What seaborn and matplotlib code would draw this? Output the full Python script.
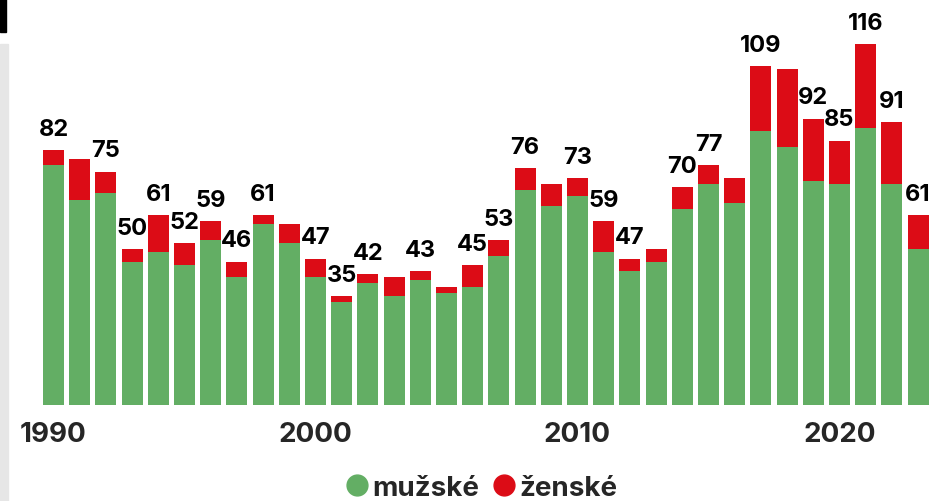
import pandas as pd
import seaborn as sns
import matplotlib.pyplot as plt
from matplotlib.lines import Line2D
from matplotlib.patches import Rectangle

# data
years = list(range(1990, 2024))
muzske = [77, 66, 68, 46, 49, 45, 53, 41, 58, 52,
          41, 33, 39, 35, 40, 36, 38, 48, 69, 64,
          67, 49, 43, 46, 63, 71, 65, 88, 83, 72,
          71, 89, 71, 50]
zenske = [5, 13, 7, 4, 12, 7, 6, 5, 3, 6,
          6, 2, 3, 6, 3, 2, 7, 5, 7, 7,
          6, 10, 4, 4, 7, 6, 8, 21, 25, 20,
          14, 27, 20, 11]
# years whose total is written above the bar
labeled = [1990, 1992, 1993, 1994, 1995, 1996, 1997, 1998, 2000, 2001,
           2002, 2004, 2006, 2007, 2008, 2010, 2011, 2012, 2014, 2015,
           2017, 2019, 2020, 2021, 2022, 2023]
tick_years = [1990, 2000, 2010, 2020]

green = '#63ae64'
red = '#dc0c16'

df = pd.DataFrame({'rok': [str(y) for y in years], 'muzske': muzske, 'zenske': zenske})
df['celkem'] = df['muzske'] + df['zenske']

sns.set_theme(style='white')
plt.rcParams['font.family'] = ['Inter', 'DejaVu Sans']

fig = plt.figure(figsize=(9.31, 5.02), dpi=100)
ax = fig.add_axes([0.0434, 0.1918, 0.9568, 0.774])

sns.barplot(data=df, x='rok', y='celkem', color=red, width=0.8, saturation=1,
            linewidth=0, ax=ax)
sns.barplot(data=df, x='rok', y='muzske', color=green, width=0.8, saturation=1,
            linewidth=0, ax=ax)

ax.set_xlim(-0.5, len(years) - 0.5)
ax.set_ylim(0, 125)
sns.despine(ax=ax, left=True, bottom=True)
ax.set_yticks([])
ax.set_xlabel('')
ax.set_ylabel('')
ax.set_xticks([years.index(y) for y in tick_years])
ax.set_xticklabels([str(y) for y in tick_years], fontsize=20, fontweight='bold')
ax.tick_params(axis='x', length=0, pad=12)

for i, row in df.iterrows():
    if years[i] in labeled:
        ax.annotate(str(row['celkem']), (i, row['celkem']), xytext=(0, 11),
                    textcoords='offset points', ha='center', va='baseline',
                    fontsize=17, fontweight='bold', color='black')

handles = [Line2D([], [], marker='o', linestyle='', color=green, markersize=15),
           Line2D([], [], marker='o', linestyle='', color=red, markersize=15)]
fig.legend(handles, ['mužské', 'ženské'], loc='center', bbox_to_anchor=(0.517, 0.026),
           ncol=2, frameon=False, handlelength=0.8, handletextpad=0.15,
           columnspacing=0.5, prop={'size': 20, 'weight': 'bold'})

# side decorations
fig.patches.append(Rectangle((0, 0), 8 / 931, 457 / 502, transform=fig.transFigure,
                             color='#e6e6e6', zorder=0))
fig.patches.append(Rectangle((0, 1 - 33 / 502), 6 / 931, 33 / 502, transform=fig.transFigure,
                             color='black', zorder=0))

fig.savefig('out.png', dpi=100)
